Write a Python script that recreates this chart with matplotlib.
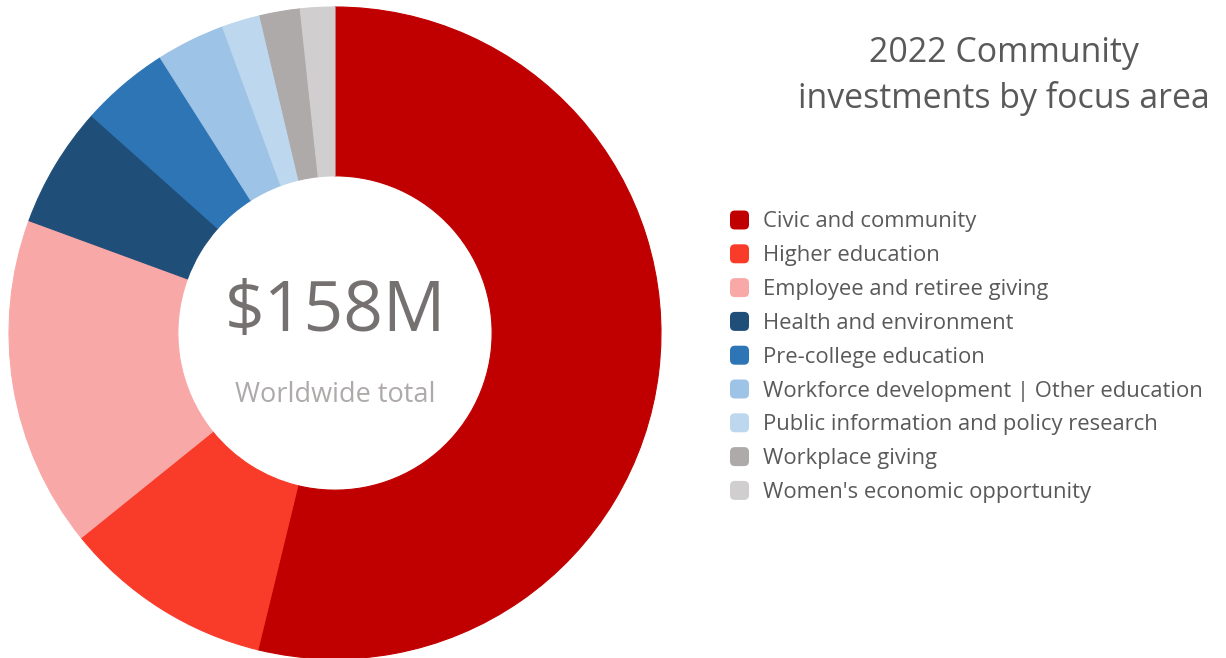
import matplotlib
matplotlib.use("Agg")
import matplotlib.pyplot as plt
from matplotlib.patches import FancyBboxPatch

# Data (shares of total, percent)
categories = [
    "Civic and community",
    "Higher education",
    "Employee and retiree giving",
    "Health and environment",
    "Pre-college education",
    "Workforce development | Other education",
    "Public information and policy research",
    "Workplace giving",
    "Women's economic opportunity",
]
shares = [53.8, 10.4, 16.4, 6.0, 4.4, 3.4, 1.9, 2.0, 1.7]
colors = ["#C00000", "#F93B2A", "#F9A8A8", "#1F4E79", "#2E75B6",
          "#9DC3E6", "#BDD7EE", "#AEAAAA", "#D0CECE"]

title = "2022 Community\ninvestments by focus area"
total_label = "$158M"
total_sub = "Worldwide total"

plt.rcParams['font.family'] = ['Open Sans', 'DejaVu Sans']

W, H = 1226, 658
fig = plt.figure(figsize=(W / 100, H / 100), dpi=100)

# donut axes: outer circle spans x 9..661, y 7..659 (pixels from top)
ax = fig.add_axes([9 / W, (H - 659) / H, 652 / W, 652 / H])

wedges, _ = ax.pie(shares, colors=colors, startangle=90, counterclock=False,
                   radius=1.0,
                   wedgeprops=dict(width=0.518, edgecolor='none'))
for w, c in zip(wedges, colors):
    w.set_edgecolor(c)
    w.set_linewidth(0.8)
    w.set_joinstyle('round')

ax.set_xlim(-1, 1)
ax.set_ylim(-1, 1)
ax.set_aspect('equal')
ax.axis('off')

ax.text(0, 0.06, total_label, ha='center', va='center', fontsize=50,
        color='#767171')
ax.text(0, -0.19, total_sub, ha='center', va='center', fontsize=19.5,
        color='#AEAAAA')

# title
fig.text(1004 / W, 1 - 76 / H, title, ha='center', va='center',
         fontsize=24.4, color='#595959', linespacing=1.4)

# legend
x_box = 730
x_txt = 763
y0 = 220
dy = 33.8
box = 19
for i, (lab, col) in enumerate(zip(categories, colors)):
    yc = y0 + i * dy
    p = FancyBboxPatch(((x_box) / W, 1 - (yc + box / 2) / H), box / W, box / H,
                       boxstyle="round,pad=0,rounding_size=0.004",
                       transform=fig.transFigure, facecolor=col,
                       edgecolor='none', mutation_aspect=W / H)
    fig.add_artist(p)
    fig.text(x_txt / W, 1 - (yc + 2) / H, lab, ha='left', va='center',
             fontsize=15.8, color='#595959')

fig.savefig("out.png", dpi=100)
